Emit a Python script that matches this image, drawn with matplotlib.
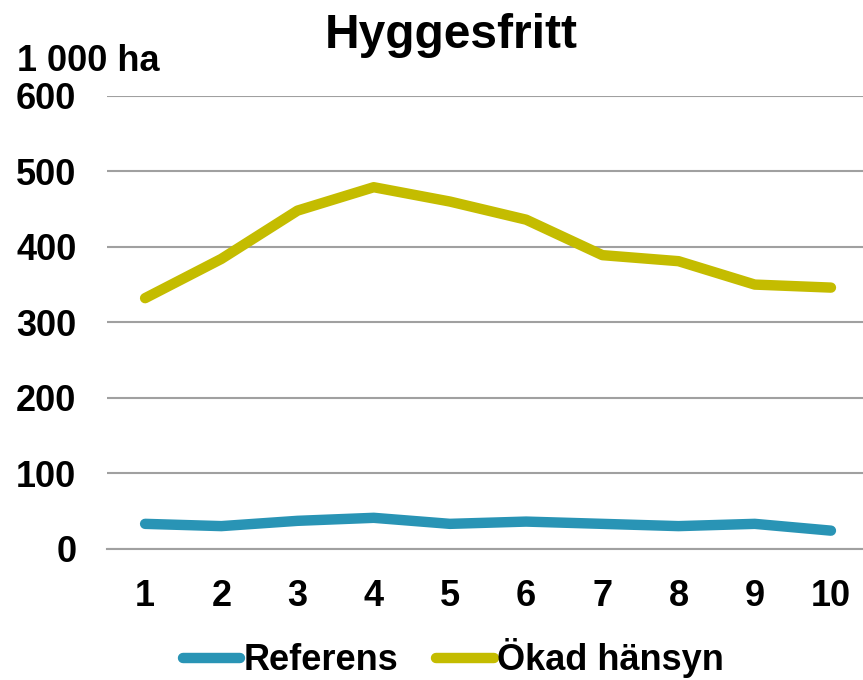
import matplotlib.pyplot as plt
from matplotlib.lines import Line2D

plt.rcParams['font.family'] = ['Liberation Sans', 'DejaVu Sans']
plt.rcParams['font.weight'] = 'bold'

years = [1, 2, 3, 4, 5, 6, 7, 8, 9, 10]
referens = [33, 30, 37, 41, 33, 36, 33, 30, 33, 24]
okad = [332, 384, 448, 479, 460, 436, 389, 381, 350, 346]
yticks = [0, 100, 200, 300, 400, 500, 600]

blue = '#2994B5'
yellow = '#C4BC00'

fig = plt.figure(figsize=(8.63, 6.8), dpi=100)
ax = fig.add_axes([0.124, 0.193, 0.883, 0.666])

ax.plot(years, referens, color=blue, lw=7.5, solid_capstyle='round', solid_joinstyle='round')
ax.plot(years, okad, color=yellow, lw=7.5, solid_capstyle='round', solid_joinstyle='round')

ax.set_xlim(0.5, 10.5)
ax.set_ylim(0, 600)
ax.set_yticks(yticks)
ax.set_xticks(years)
ax.yaxis.grid(True, color='#A0A0A0', lw=1.5)
ax.set_axisbelow(True)
for s in ['top', 'right', 'left']:
    ax.spines[s].set_visible(False)
ax.spines['bottom'].set_color('#A0A0A0')
ax.spines['bottom'].set_linewidth(1.5)
ax.tick_params(axis='both', length=0, labelsize=26)
ax.tick_params(axis='y', pad=22)
ax.tick_params(axis='x', pad=22)

fig.text(0.523, 0.948, 'Hyggesfritt', ha='center', va='center', fontsize=34.5, fontweight='bold')
fig.text(0.02, 0.91, '1 000 ha', ha='left', va='center', fontsize=26, fontweight='bold')

handles = [Line2D([0], [0], color=blue, lw=7.5, solid_capstyle='round'),
           Line2D([0], [0], color=yellow, lw=7.5, solid_capstyle='round')]
fig.legend(handles, ['Referens', 'Ökad hänsyn'], loc='center', bbox_to_anchor=(0.525, 0.032),
           ncol=2, frameon=False, fontsize=26, handlelength=1.6, handletextpad=0.08,
           columnspacing=1.05)

fig.savefig('out.png', dpi=100)
